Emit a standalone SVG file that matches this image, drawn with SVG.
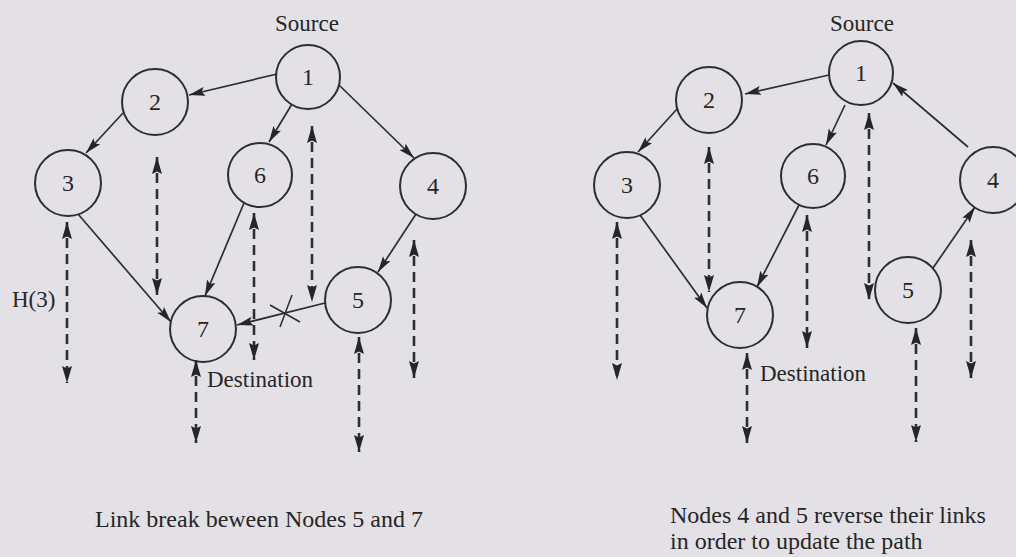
<svg xmlns="http://www.w3.org/2000/svg" width="1016" height="557" viewBox="0 0 1016 557">
<style>
.bg{fill:#e4e1e6}
.node circle{fill:none;stroke:#2e2e2e;stroke-width:2}
.node text{font-family:"Liberation Serif","Times New Roman",serif;font-size:24px;fill:#262626;text-anchor:middle}
.lbl{font-family:"Liberation Serif","Times New Roman",serif;font-size:23px;fill:#262626}
.cap{font-family:"Liberation Serif","Times New Roman",serif;font-size:24px;fill:#262626}
.link{stroke:#2e2e2e;stroke-width:1.7;fill:none;marker-end:url(#ah)}
.dash{stroke:#2e2e2e;stroke-width:2.6;fill:none;stroke-dasharray:10 6;marker-start:url(#ahd);marker-end:url(#ahd)}
.brk{stroke:#2e2e2e;stroke-width:1.6;fill:none}
</style>
<defs>
<marker id="ah" markerUnits="userSpaceOnUse" markerWidth="16" markerHeight="10" refX="16" refY="5" orient="auto-start-reverse" viewBox="0 0 16 10">
<path d="M0,0.5 L16,5 L0,9.5 L3,5 Z" fill="#262626"/>
</marker>
<marker id="ahd" markerUnits="userSpaceOnUse" markerWidth="17" markerHeight="11" refX="17" refY="5.5" orient="auto-start-reverse" viewBox="0 0 17 11">
<path d="M0,0.5 L17,5.5 L0,10.5 L2.5,5.5 Z" fill="#262626"/>
</marker>
</defs>
<rect class="bg" x="0" y="0" width="1016" height="557"/>

<g id="connectors">
<!-- left diagram -->
<line class="link" x1="277" y1="74" x2="189" y2="95"/>
<line class="link" x1="123" y1="113" x2="86" y2="153"/>
<line class="link" x1="292" y1="104" x2="269" y2="142"/>
<line class="link" x1="339" y1="85" x2="414" y2="158"/>
<line class="link" x1="78" y1="214" x2="171" y2="322"/>
<line class="link" x1="244" y1="203" x2="205" y2="296"/>
<line class="link" x1="416" y1="214" x2="378" y2="272"/>
<line class="link" x1="325" y1="303" x2="237" y2="325"/>
<line class="brk" x1="270" y1="305" x2="300" y2="322"/>
<line class="brk" x1="292" y1="295" x2="280" y2="327"/>
<line class="dash" x1="67" y1="222" x2="67" y2="383"/>
<line class="dash" x1="157" y1="157" x2="157" y2="295"/>
<line class="dash" x1="254" y1="213" x2="254" y2="360"/>
<line class="dash" x1="312" y1="126" x2="312" y2="302"/>
<line class="dash" x1="196" y1="360" x2="196" y2="443"/>
<line class="dash" x1="359" y1="337" x2="359" y2="452"/>
<line class="dash" x1="414" y1="240" x2="414" y2="378"/>
<!-- right diagram -->
<line class="link" x1="829" y1="75" x2="745" y2="94"/>
<line class="link" x1="677" y1="109" x2="638" y2="152"/>
<line class="link" x1="845" y1="105" x2="826" y2="145"/>
<line class="link" x1="968" y1="147" x2="893" y2="83"/>
<line class="link" x1="640" y1="215" x2="707" y2="308"/>
<line class="link" x1="799" y1="205" x2="757" y2="287"/>
<line class="link" x1="933" y1="268" x2="975" y2="207"/>
<line class="dash" x1="617" y1="222" x2="617" y2="380"/>
<line class="dash" x1="709" y1="147" x2="709" y2="292"/>
<line class="dash" x1="807" y1="215" x2="807" y2="348"/>
<line class="dash" x1="869" y1="113" x2="869" y2="300"/>
<line class="dash" x1="747" y1="353" x2="747" y2="443"/>
<line class="dash" x1="916" y1="328" x2="916" y2="442"/>
<line class="dash" x1="971" y1="240" x2="971" y2="378"/>
</g>

<!-- left nodes -->
<g id="L1" class="node"><circle cx="308" cy="77" r="32"/><text x="308" y="85">1</text></g>
<g id="L2" class="node"><circle cx="155" cy="102" r="33"/><text x="155" y="110">2</text></g>
<g id="L3" class="node"><circle cx="68" cy="183" r="33"/><text x="68" y="191">3</text></g>
<g id="L6" class="node"><circle cx="260" cy="175" r="32"/><text x="260" y="183">6</text></g>
<g id="L4" class="node"><circle cx="433" cy="186" r="33"/><text x="433" y="194">4</text></g>
<g id="L7" class="node"><circle cx="203" cy="329" r="33"/><text x="203" y="337">7</text></g>
<g id="L5" class="node"><circle cx="358" cy="300" r="33"/><text x="358" y="308">5</text></g>

<!-- right nodes -->
<g id="R1" class="node"><circle cx="861" cy="73" r="32"/><text x="861" y="81">1</text></g>
<g id="R2" class="node"><circle cx="709" cy="100" r="33"/><text x="709" y="108">2</text></g>
<g id="R3" class="node"><circle cx="627" cy="185" r="33"/><text x="627" y="193">3</text></g>
<g id="R6" class="node"><circle cx="813" cy="176" r="32"/><text x="813" y="184">6</text></g>
<g id="R4" class="node"><circle cx="993" cy="180" r="33"/><text x="993" y="188">4</text></g>
<g id="R7" class="node"><circle cx="740" cy="315" r="33"/><text x="740" y="323">7</text></g>
<g id="R5" class="node"><circle cx="908" cy="290" r="33"/><text x="908" y="298">5</text></g>

<g id="labels">
<text class="lbl" x="307" y="31" text-anchor="middle">Source</text>
<text class="lbl" x="862" y="31" text-anchor="middle">Source</text>
<text class="lbl" x="12" y="307">H(3)</text>
<text class="lbl" x="207" y="387">Destination</text>
<text class="lbl" x="760" y="381">Destination</text>
<text class="cap" x="95" y="527">Link break beween Nodes 5 and 7</text>
<text class="cap" x="670" y="523" font-size="23.5">Nodes 4 and 5 reverse their links</text>
<text class="cap" x="670" y="549" font-size="23.5">in order to update the path</text>
</g>
</svg>
